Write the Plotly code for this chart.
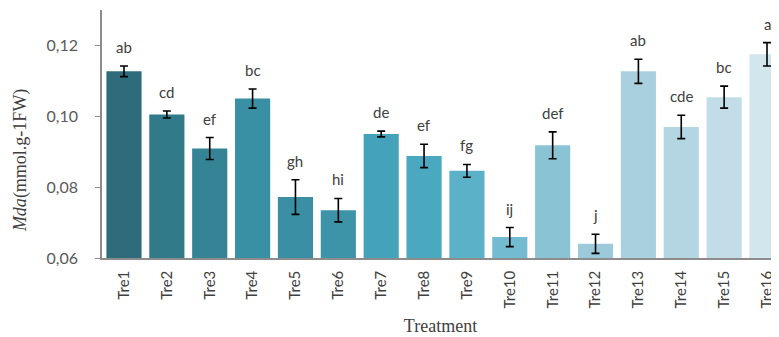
import plotly.graph_objects as go

categories = ["Tre1", "Tre2", "Tre3", "Tre4", "Tre5", "Tre6", "Tre7", "Tre8",
              "Tre9", "Tre10", "Tre11", "Tre12", "Tre13", "Tre14", "Tre15", "Tre16"]
mda_values = [0.1127, 0.1005, 0.0909, 0.1050, 0.0772, 0.0735, 0.0950, 0.0888,
              0.0846, 0.0659, 0.0918, 0.0640, 0.1127, 0.0970, 0.1054, 0.1175]
mda_errors = [0.0015, 0.0010, 0.0031, 0.0027, 0.0049, 0.0033, 0.0008, 0.0033,
              0.0018, 0.0027, 0.0038, 0.0027, 0.0034, 0.0033, 0.0031, 0.0033]
sig_letters = ["ab", "cd", "ef", "bc", "gh", "hi", "de", "ef",
               "fg", "ij", "def", "j", "ab", "cde", "bc", "a"]
bar_colors = ["#2e6c7b", "#307a8a", "#348496", "#398fa3", "#3b8fa4", "#3d93a8",
              "#44a3ba", "#4aa9c0", "#5ab1c8", "#72bbd0", "#8ac3d4", "#9ccadb",
              "#a8d0de", "#b4d6e2", "#c2dde8", "#d2e6ee"]

fig = go.Figure()
fig.add_trace(go.Bar(
    x=categories, y=mda_values,
    marker=dict(color=bar_colors, line=dict(width=0)),
    error_y=dict(type="data", array=mda_errors, color="black", thickness=1.6, width=4),
))

for c, v, e, t in zip(categories, mda_values, mda_errors, sig_letters):
    fig.add_annotation(x=c, y=v + e, text=t, showarrow=False, yanchor="bottom",
                       yshift=8, font=dict(family="Lato", size=15, color="#404040"))

fig.add_annotation(xref="paper", yref="paper", x=-0.121, y=0.395, xanchor="center", yanchor="middle",
                   text="<i>Mda</i>(mmol.g-1FW)", textangle=-90, showarrow=False,
                   font=dict(family="Liberation Serif", size=18, color="#404040"))

fig.update_layout(
    width=771, height=329,
    margin=dict(l=94, r=0, t=2, b=79, autoexpand=False),
    plot_bgcolor="white", paper_bgcolor="white",
    separators=",.",
    bargap=0.18,
    showlegend=False,
    xaxis=dict(
        range=[-0.513, 15.28],
        showline=True, linecolor="#8c8c8c", linewidth=1.5,
        tickangle=-90, ticks="outside", ticklen=5, tickcolor="rgba(0,0,0,0)",
        tickfont=dict(family="Lato", size=15, color="#404040"),
        automargin=False,
        title=dict(text="Treatment", font=dict(family="Liberation Serif", size=18, color="#404040"),
                   standoff=12),
    ),
    yaxis=dict(
        range=[0.06, 0.13],
        tickvals=[0.06, 0.08, 0.10, 0.12],
        tickformat=".2f",
        showline=True, linecolor="#8c8c8c", linewidth=1.5,
        ticks="outside", ticklen=5, tickcolor="#8c8c8c",
        ticklabelstandoff=14,
        showgrid=False, zeroline=False, automargin=False,
        tickfont=dict(family="Lato", size=16, color="#595959"),
    ),
)

fig.write_html("out.html")
